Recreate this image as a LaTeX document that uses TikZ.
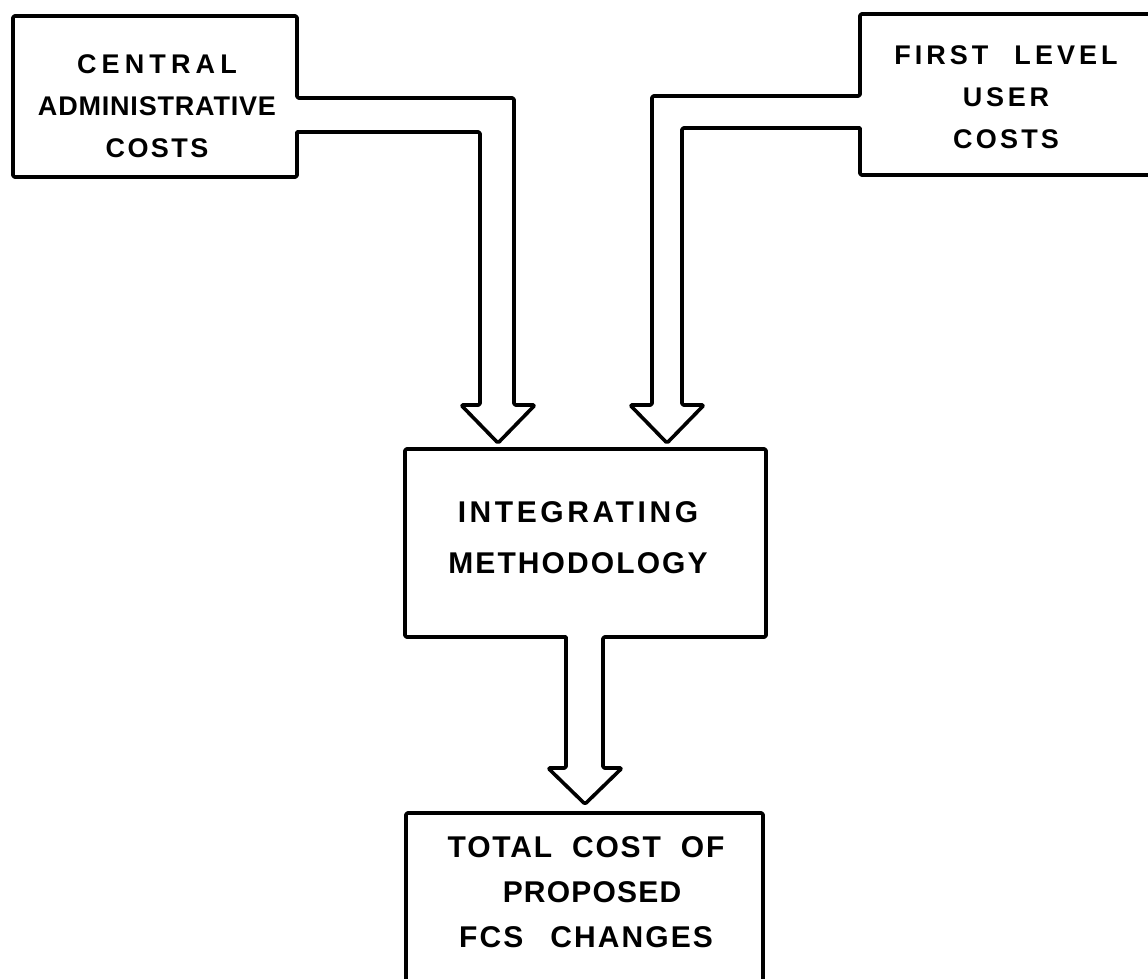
\documentclass[tikz,border=0pt]{standalone}
\usepackage{fontspec}
\setmainfont{Liberation Sans}
\newcommand{\lsp}[2]{{\addfontfeature{LetterSpace=#1}#2}}
\tikzset{
  box/.style={draw=none, inner sep=0pt, outer sep=0pt},
  outline/.style={draw=black, line width=3.6pt, line join=round, line cap=round, rounded corners=1.5pt},
  lbl/.style={align=center, inner sep=0pt, font=\bfseries\fontsize{27}{42}\selectfont},
  lblbig/.style={align=center, inner sep=0pt, font=\bfseries\fontsize{30}{51}\selectfont}
}
\begin{document}
\begin{tikzpicture}[x=1pt,y=-1pt]
\useasboundingbox (0,0) rectangle (1148,978);
\clip (0,0) rectangle (1148,978);
\fill[white] (0,0) rectangle (1148,978);

% boxes
\node[box, minimum width=284pt, minimum height=161pt] (cac) at (155,96.5) {};
\node[box, minimum width=300pt, minimum height=161pt] (flu) at (1010,94.5) {};
\node[box, minimum width=361pt, minimum height=188pt] (im) at (585.5,543) {};
\node[box, minimum width=357pt, minimum height=200pt] (tc) at (584.5,913) {};

% texts
\node[lbl] (tcac) at (157,106) {\lsp{19}{CENTRAL}\\\lsp{3}{ADMINISTRATIVE}\\\lsp{9}{COSTS}};
\node[lbl] (tflu) at (1006,97) {\lsp{15}{FIRST}\hspace{26pt}\lsp{15}{LEVEL}\\\lsp{14}{USER}\\\lsp{12}{COSTS}};
\node[lblbig] (tim) at (578,538) {\lsp{12}{INTEGRATING}\\\lsp{7}{METHODOLOGY}};
\node[lblbig, font=\bfseries\fontsize{30}{45}\selectfont] (ttc) at (586,892)
  {\lsp{6}{TOTAL}\hspace{20pt}\lsp{6}{COST}\hspace{20pt}\lsp{6}{OF}\\
   \hspace{12pt}\lsp{4}{PROPOSED}\\
   \lsp{7}{FCS}\hspace{27pt}\lsp{7}{CHANGES}};

% connection points
\coordinate (a1o) at (cac.east |- 0,98);
\coordinate (a1i) at (cac.east |- 0,132);
\coordinate (a1tip) at (im.north west -| 498,0);
\coordinate (a2o) at (flu.west |- 0,96);
\coordinate (a2i) at (flu.west |- 0,128);
\coordinate (a2tip) at (im.north west -| 667,0);
\coordinate (a3l) at (im.south west -| 566,0);
\coordinate (a3r) at (im.south west -| 603,0);
\coordinate (a3tip) at (tc.north -| 585,0);

% left box with its block arrow to the integrating box
\draw[outline] (a1i) -- (cac.south east) -- (cac.south west) -- (cac.north west) -- (cac.north east) -- (a1o)
  -- (514,98) -- (514,405) -- (535,405) -- ([yshift=6pt]a1tip) -- (461,405) -- (480,405) -- (480,132) -- (a1i);

% right box with its block arrow
\draw[outline] (a2i) -- (flu.south west) -- (flu.south east) -- (flu.north east) -- (flu.north west) -- (a2o)
  -- (652,96) -- (652,405) -- (630,405) -- ([yshift=6pt]a2tip) -- (704,405) -- (682,405) -- (682,128) -- (a2i);

% integrating box with its block arrow to the total box
\draw[outline] (a3l) -- (im.south west) -- (im.north west) -- (im.north east) -- (im.south east) -- (a3r)
  -- (603,768) -- (622,768) -- ([yshift=9pt]a3tip) -- (548,768) -- (566,768) -- (a3l);

% total box
\draw[outline] (tc.south west) -- (tc.north west) -- (tc.north east) -- (tc.south east) -- cycle;
\end{tikzpicture}
\end{document}
